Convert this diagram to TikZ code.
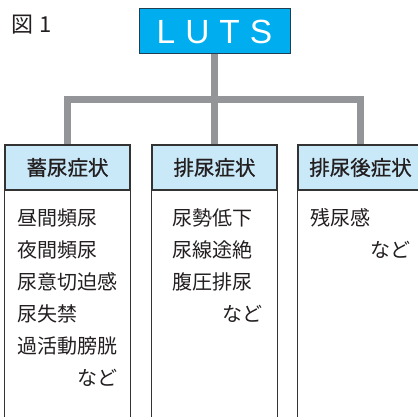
\documentclass[tikz,border=0pt]{standalone}
\usepackage{fontspec}
\setmainfont{Noto Sans CJK JP}
\newfontfamily\jphead[FakeBold=0.8]{Noto Sans CJK JP}
\newfontfamily\latinfont{Liberation Sans}
\usetikzlibrary{backgrounds}
\definecolor{lutsblue}{HTML}{00AEEF}
\definecolor{lutsedge}{HTML}{1F3F55}
\definecolor{headblue}{HTML}{C9E9F8}
\definecolor{conngray}{HTML}{939598}
\definecolor{edgegray}{HTML}{333333}
\definecolor{txt}{HTML}{231F20}
\tikzset{
  conn/.style={draw=conngray, line width=7pt, line join=miter},
  headbox/.style={draw=edgegray, line width=1.1pt, fill=headblue, minimum width=125pt, minimum height=45pt, inner sep=0pt, text=txt, font=\jphead\fontsize{20.5}{24}\selectfont},
  sideline/.style={draw=edgegray, line width=1.1pt},
  bodytext/.style={inner sep=0pt, text=txt, font=\fontsize{20}{24}\selectfont},
  lutsbox/.style={draw=lutsedge, line width=1pt, fill=lutsblue, minimum width=151pt, minimum height=45pt, inner sep=0pt, text=white, font=\latinfont\fontsize{33.5}{36}\selectfont}
}
\begin{document}
\begin{tikzpicture}[x=1pt,y=-1pt]
\useasboundingbox (0,0) rectangle (417,417);

\node[anchor=base west, inner sep=0pt, text=txt, font=\fontsize{22}{24}\selectfont] (fig) at (11,33) {図\hspace{6pt}1};

\node[lutsbox] (luts) at (214.5,31.5) {L\hspace{10pt}U\hspace{10pt}T\hspace{10pt}S};

\node[headbox] (h1) at (67.5,167.5) {蓄尿症状};
\node[headbox] (h2) at (214.5,167.5) {排尿症状};
\node[headbox] (h3) at (360.5,167.5) {排尿後症状};

\begin{scope}[on background layer]
\fill[white] (0,0) rectangle (417,417);
\coordinate (bar) at (214.5,99.5);
\draw[conn] (luts.south) -- (bar);
\draw[conn] (h1.north) -- (h1.north |- bar) -- (h3.north |- bar) -- (h3.north);
\draw[conn] (bar) -- (h2.north);
\end{scope}

\foreach \h in {h1,h2,h3}{
  \draw[sideline] (\h.south west) -- ++(0,240);
  \draw[sideline] (\h.south east) -- ++(0,240);
}

\node[bodytext, anchor=base west] (a1) at (17,225.5) {昼間頻尿};
\node[bodytext, anchor=base west] (a2) at (17,257.5) {夜間頻尿};
\node[bodytext, anchor=base west] (a3) at (17,289.5) {尿意切迫感};
\node[bodytext, anchor=base west] (a4) at (17,321.5) {尿失禁};
\node[bodytext, anchor=base west] (a5) at (17,353.5) {過活動膀胱};
\node[bodytext, anchor=base east] (a6) at (118,385.5) {など};

\node[bodytext, anchor=base west] (b1) at (172,225.5) {尿勢低下};
\node[bodytext, anchor=base west] (b2) at (172,257.5) {尿線途絶};
\node[bodytext, anchor=base west] (b3) at (172,289.5) {腹圧排尿};
\node[bodytext, anchor=base east] (b4) at (263,321.5) {など};

\node[bodytext, anchor=base west] (c1) at (310,225.5) {残尿感};
\node[bodytext, anchor=base east] (c2) at (411,257.5) {など};
\end{tikzpicture}
\end{document}
